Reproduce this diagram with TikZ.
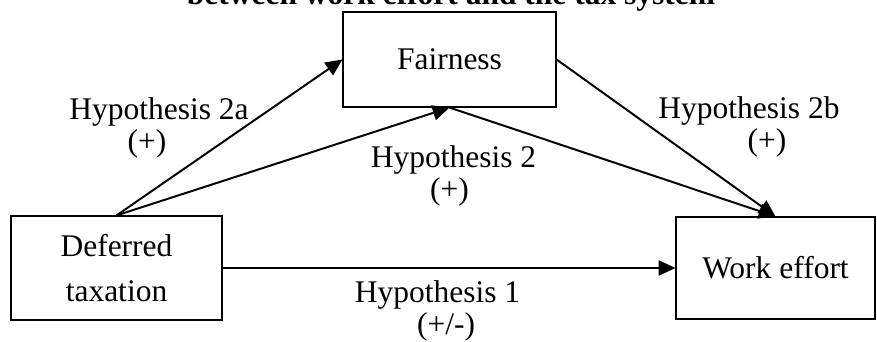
\documentclass[tikz,border=0pt]{standalone}
\usepackage{fontspec}
\setmainfont{Liberation Serif}
\usetikzlibrary{arrows.meta}
\begin{document}
\begin{tikzpicture}[x=0.025cm,y=-0.025cm,
    box/.style={draw,line width=0.8pt,inner sep=0pt,align=center},
    hyp/.style={align=center,inner sep=0pt},
    arr/.style={line width=1.4pt,-{Triangle[length=0.42cm,width=0.38cm]}},
    font={\fontsize{22.4pt}{22.7pt}\selectfont}]
\useasboundingbox (0,0) rectangle (877,342);

   \node[anchor=base,font={\fontsize{22.4pt}{22.7pt}\selectfont\bfseries}] at (451,4) (title) {between work effort and the tax system};

   \node[box,minimum width=5.325cm,minimum height=2.375cm] at (449.5,59.5) (F) {Fairness};
   \node[box,minimum width=5.275cm,minimum height=2.6cm] at (116.5,268) (D) {Deferred\\[9.3pt]taxation};
   \node[box,minimum width=4.975cm,minimum height=2.55cm] at (775.5,268) (W) {Work effort};

   \node[hyp] at (159,127.5) (h2a) {Hypothesis 2a\\\hspace*{-0.6cm}(+)};
   \node[hyp] at (453.5,175.5) (h2) {Hypothesis 2\\\hspace*{-0.2cm}(+)};
   \node[hyp] at (749,127) (h2b) {Hypothesis 2b\\\hspace*{0.9cm}(+)};
   \node[hyp] at (437.5,311) (h1) {Hypothesis 1\\\hspace*{0.43cm}(+/-)};

   % paths
   \draw[arr] (D.north) -- (F.west);
   \draw[arr] (D.north) -- (F.south);
   \draw[arr] (F.south) -- (W.north);
   \draw[arr] (F.east) -- (W.north);
   \draw[arr] (D.east) -- (W.west);

\end{tikzpicture}
\end{document}
